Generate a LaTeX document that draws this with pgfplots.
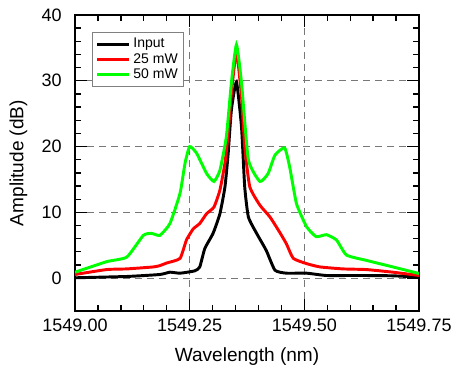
\documentclass[border=0pt]{standalone}
\usepackage{pgfplots}
\pgfplotsset{compat=1.18}
\usepackage{fontspec}
\setmainfont{Liberation Sans}
\definecolor{cgreen}{RGB}{0,255,0}
\definecolor{cred}{RGB}{255,0,0}
\definecolor{cgrid}{RGB}{120,120,120}
\begin{document}
\begin{tikzpicture}
\begin{axis}[
  name=ax,
  scale only axis, width=258pt, height=222pt,
  xmin=1549, xmax=1549.75, ymin=-5, ymax=40,
  xtick={1549,1549.25,1549.5,1549.75},
  xticklabels={1549.00,1549.25,1549.50,1549.75},
  ytick={0,10,20,30,40},
  minor x tick num=4, minor y tick num=4,
  tick align=inside, tick pos=both,
  major tick length=9pt, minor tick length=4.5pt,
  every tick/.style={black, line width=1pt},
  axis line style={line width=1.5pt},
  grid=major, major grid style={cgrid, dash pattern=on 5.5pt off 3.5pt, line width=0.7pt},
  /pgf/number format/assume math mode=true,
  ticklabel style={font=\fontsize{13.5}{15}\selectfont},
  xticklabel style={yshift=-2.5pt},
  yticklabel style={xshift=-6.5pt},
  label style={font=\fontsize{14.3}{16}\selectfont},
  xlabel={Wavelength (nm)}, ylabel={Amplitude (dB)},
  xlabel style={at={(axis description cs:0.5,0)}, anchor=center, yshift=-34.5pt},
  ylabel style={at={(axis description cs:0,0.5)}, anchor=center, yshift=42.4pt},
  legend style={at={(0.049,0.943)}, anchor=north west, draw=gray, line width=0.6pt,
    font=\fontsize{10.5}{12}\selectfont, row sep=-1.5pt, inner sep=2.5pt},
  legend cell align=left,
  legend image code/.code={\draw[#1, line width=2.2pt] (0cm,0cm) -- (0.85cm,0cm);},
]
\addplot[black, line width=2.2pt, smooth, tension=0.3] coordinates {
(1549.000,0.05) (1549.113,0.25) (1549.185,0.55) (1549.207,0.9) (1549.229,0.75)
(1549.261,1.1) (1549.272,1.7) (1549.283,4.5) (1549.301,6.8) (1549.316,9.8)
(1549.327,13.9) (1549.334,19) (1549.341,25.6) (1549.352,29.8) (1549.363,23)
(1549.370,13.9) (1549.378,9.3) (1549.396,6.8) (1549.417,4.2) (1549.436,1.2)
(1549.461,0.75) (1549.505,0.75) (1549.548,0.4) (1549.621,0.4) (1549.693,0.35)
(1549.750,0.15)};
\addlegendentry{Input}
\addplot[cred, line width=2.2pt, smooth, tension=0.3] coordinates {
(1549.000,0.55) (1549.069,1.3) (1549.113,1.4) (1549.171,1.7) (1549.185,1.9)
(1549.200,2.3) (1549.229,3.0) (1549.243,5.8) (1549.258,7.5) (1549.272,8.3)
(1549.287,9.8) (1549.303,10.8) (1549.316,13.4) (1549.327,17.5) (1549.334,22)
(1549.341,28.1) (1549.352,34.4) (1549.363,27.6) (1549.370,20) (1549.381,13.9)
(1549.403,11.1) (1549.425,9.3) (1549.446,7.0) (1549.461,5.2) (1549.476,3.0)
(1549.505,2.2) (1549.534,1.7) (1549.584,1.4) (1549.635,1.3) (1549.693,0.9)
(1549.750,0.4)};
\addlegendentry{25 mW}
\addplot[cgreen, line width=2.2pt, smooth, tension=0.3] coordinates {
(1549.000,0.9) (1549.069,2.5) (1549.113,3.2) (1549.149,6.5) (1549.167,6.8)
(1549.185,6.5) (1549.207,8.3) (1549.229,12.9) (1549.240,17.5) (1549.250,20.0)
(1549.265,19.0) (1549.287,15.9) (1549.303,14.7) (1549.316,16.4) (1549.330,21.5)
(1549.341,29.7) (1549.352,35.5) (1549.363,29.7) (1549.378,18) (1549.403,14.7)
(1549.421,15.9) (1549.436,18.7) (1549.457,19.8) (1549.468,16.9) (1549.483,11.3)
(1549.505,7.8) (1549.526,6.3) (1549.548,6.6) (1549.570,5.8) (1549.592,3.5)
(1549.635,2.7) (1549.693,1.7) (1549.750,0.7)};
\addlegendentry{50 mW}
\end{axis}
\pgfresetboundingbox
\useasboundingbox ([xshift=-56.25pt,yshift=-45.75pt]ax.south west) rectangle ([xshift=26.25pt,yshift=11.25pt]ax.north east);
\end{tikzpicture}
\end{document}
